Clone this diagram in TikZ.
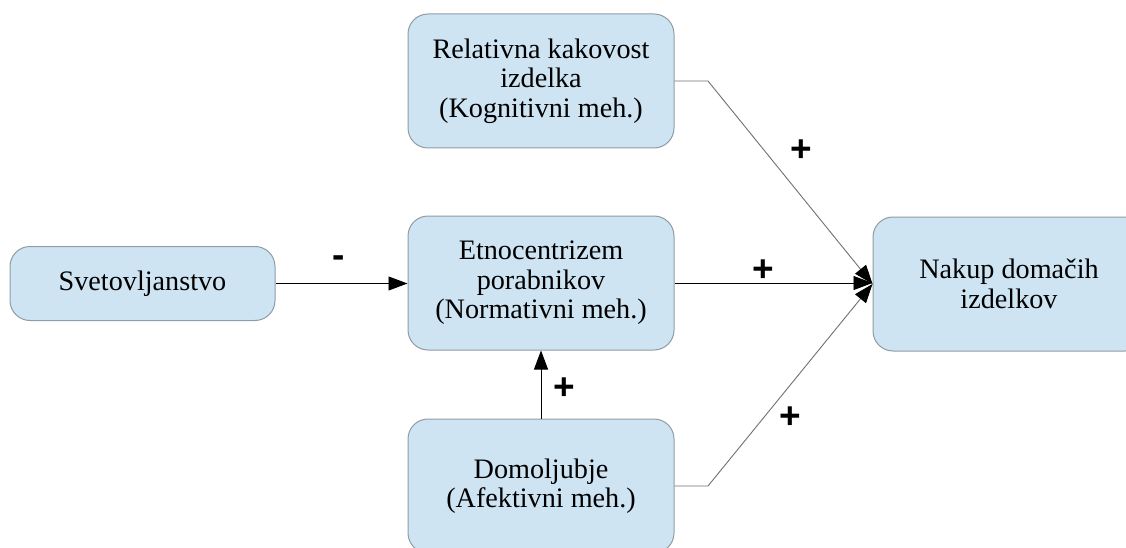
\documentclass[tikz,border=0pt]{standalone}
\usepackage{fontspec}
\setmainfont{Liberation Serif}
\newfontfamily\boxfont{Liberation Serif}
\newfontfamily\signfont{Liberation Sans}
\usetikzlibrary{arrows.meta}
\definecolor{boxfill}{HTML}{CFE4F2}
\definecolor{boxline}{HTML}{8E9CA6}
\definecolor{diagline}{HTML}{707070}
\tikzset{
  box/.style={draw=boxline, fill=boxfill, rounded corners=20pt, line width=1pt,
    align=center, inner sep=0pt, font=\boxfont\fontsize{28.2}{29.5}\selectfont},
  conn/.style={line width=0.9pt, -{Triangle[length=19pt,width=14pt,fill=black,color=black]}},
  sign/.style={font=\signfont\bfseries\fontsize{37}{37}\selectfont, inner sep=0pt}
}
\begin{document}
\begin{tikzpicture}[x=1pt,y=-1pt]
\useasboundingbox (0,0) rectangle (1126,548);
\node[box, minimum width=266pt, minimum height=134pt] (top) at (541,81) {Relativna kakovost\\izdelka\\(Kognitivni meh.)};
\node[box, minimum width=265pt, minimum height=74pt] (left) at (142.5,283.5) {Svetovljanstvo};
\node[box, minimum width=266pt, minimum height=134pt] (mid) at (541,283) {Etnocentrizem\\porabnikov\\(Normativni meh.)};
\node[box, minimum width=266pt, minimum height=134pt] (bot) at (541,486) {Domoljubje\\(Afektivni meh.)};
\node[box, minimum width=272pt, minimum height=134pt] (right) at (1009,284) {Nakup domačih\\izdelkov};
\coordinate (tb) at (708,81);
\coordinate (bb) at (708,486);
\draw[conn] (left.east) -- (mid.west |- left.east);
\draw[conn] (mid.east) -- (right.west |- mid.east);
\draw[conn, draw=diagline] (top.east) -- (tb) -- (right.west);
\draw[conn, draw=diagline] (bot.east) -- (bb) -- (right.west);
\draw[conn] (bot.north) -- (mid.south);
\node[sign] (s1) at (339,262) {-};
\node[sign] (s2) at (763,271) {+};
\node[sign] (s3) at (801,151) {+};
\node[sign] (s4) at (790,418) {+};
\node[sign] (s5) at (564,389) {+};
\end{tikzpicture}
\end{document}
